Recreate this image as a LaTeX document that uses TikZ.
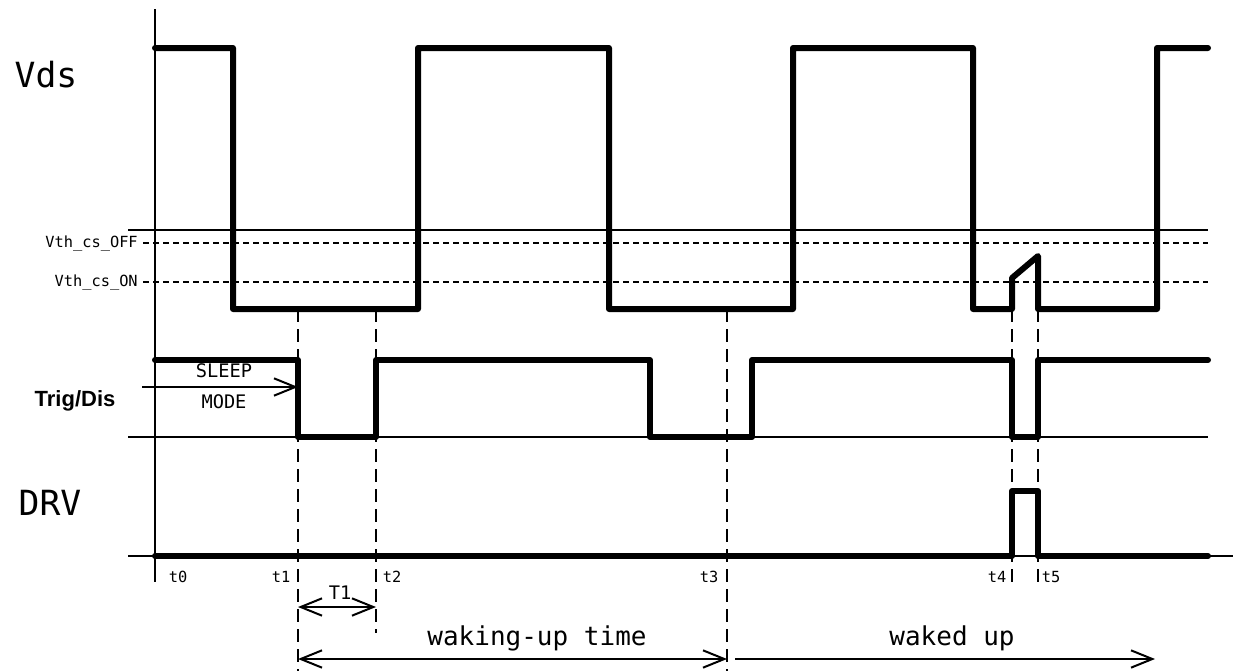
\documentclass[tikz,border=0pt]{standalone}
\usepackage{fontspec}
\setmonofont{DejaVu Sans Mono}
\newfontfamily\arialfont{Liberation Sans}
\usetikzlibrary{arrows.meta}
\begin{document}
\begin{tikzpicture}[x=0.75pt,y=-0.75pt,
  wave/.style={line width=4.5pt,line join=round,line cap=round},
  thinline/.style={line width=1.4pt},
  vdash/.style={line width=1.5pt,dash pattern=on 10pt off 5pt},
  hdash/.style={line width=1.2pt,dash pattern=on 4.5pt off 3pt},
  barb/.tip={Straight Barb[length=16pt,width=13pt,line width=1.5pt]},
  dimarrow/.style={line width=1.5pt},
  biglabel/.style={font=\ttfamily\fontsize{26}{26}\selectfont,inner sep=0pt},
  smalllabel/.style={font=\ttfamily\fontsize{11.5}{12}\selectfont,inner sep=0pt},
  midlabel/.style={font=\ttfamily\fontsize{14}{15}\selectfont,inner sep=0pt},
  timelabel/.style={font=\ttfamily\fontsize{19.5}{20}\selectfont,inner sep=0pt},
  boldlabel/.style={font=\arialfont\bfseries\fontsize{16.5}{17}\selectfont,inner sep=0pt}]
\useasboundingbox (0,0) rectangle (1238,671);

% axis and thin reference lines
\coordinate (axT) at (155,9);
\coordinate (axB) at (155,582);
\draw[thinline] (axT) -- (axB);
\draw[thinline] (128,230) -- (1208,230);
\draw[thinline] (128,437) -- (1208,437);
\draw[thinline] (128,556) -- (1233,556);

% threshold lines
\node[smalllabel,anchor=east] (voff) at (138,243) {Vth\_cs\_OFF};
\node[smalllabel,anchor=east] (von) at (138,282) {Vth\_cs\_ON};
\draw[hdash] (voff.east) ++(5,0) -- (1208,243);
\draw[hdash] (von.east) ++(5,0) -- (1208,282);

% dashed time markers
\draw[vdash] (298,309) -- (298,671);
\draw[vdash] (376,309) -- (376,633);
\draw[vdash] (727,309) -- (727,671);
\draw[vdash] (1012,309) -- (1012,585);
\draw[vdash] (1038,309) -- (1038,585);

% signal labels
\node[biglabel] (vds) at (46,75) {Vds};
\node[boldlabel] (trig) at (75,401) {Trig/Dis};
\node[biglabel] (drv) at (50,503) {DRV};

% sleep mode
\node[midlabel] (sleep) at (224,371) {SLEEP};
\node[midlabel] (mode) at (224,402) {MODE};
\coordinate (sA) at (142,387);
\coordinate (sB) at (298,387);
\draw[dimarrow,-barb] (sA) -- (sB);

% waveforms
\draw[wave] (155,48) -- (233,48) -- (233,309) -- (418,309) -- (418,48) -- (609,48)
  -- (609,309) -- (793,309) -- (793,48) -- (973,48) -- (973,309) -- (1012,309)
  -- (1012,278) -- (1038,256) -- (1038,309) -- (1157,309) -- (1157,48) -- (1208,48);
\draw[wave] (155,360) -- (298,360) -- (298,437) -- (376,437) -- (376,360) -- (650,360)
  -- (650,437) -- (752,437) -- (752,360) -- (1012,360) -- (1012,437) -- (1038,437)
  -- (1038,360) -- (1208,360);
\draw[wave] (155,556) -- (1012,556) -- (1012,491) -- (1038,491) -- (1038,556) -- (1208,556);

% time labels
\node[smalllabel] (t0) at (178,577) {t0};
\node[smalllabel] (t1) at (281,577) {t1};
\node[smalllabel] (t2) at (392,577) {t2};
\node[smalllabel] (t3) at (709,577) {t3};
\node[smalllabel] (t4) at (997,577) {t4};
\node[smalllabel] (t5) at (1051,577) {t5};

% dimension arrows
\coordinate (T1a) at (298,607);
\coordinate (T1b) at (376,607);
\draw[dimarrow,barb-barb] (T1a) -- (T1b);
\node[midlabel] (T1) at (340,593) {T1};

\coordinate (Wa) at (298,659);
\coordinate (Wb) at (727,659);
\draw[dimarrow,barb-barb] (Wa) -- (Wb);
\node[timelabel,anchor=base] (wut) at (537,645) {waking-up time};

\coordinate (Ua) at (735,659);
\coordinate (Ub) at (1155,659);
\draw[dimarrow,-barb] (Ua) -- (Ub);
\node[timelabel,anchor=base] (wu) at (952,645) {waked up};
\end{tikzpicture}
\end{document}
